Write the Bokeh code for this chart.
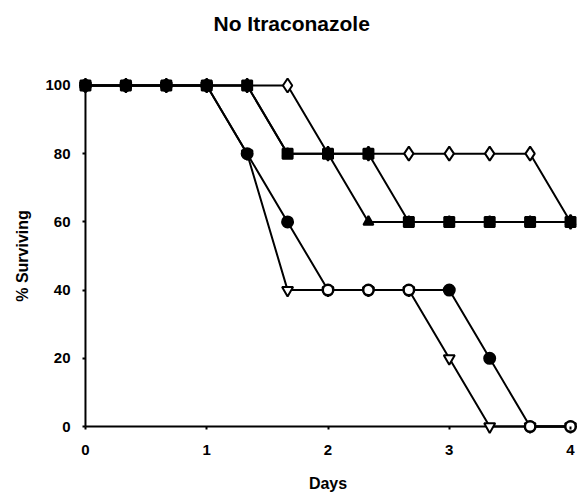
from bokeh.plotting import figure
from bokeh.models import Range1d, FixedTicker, Title
from bokeh.embed import file_html
from bokeh.resources import INLINE

days = [0, 1/3, 2/3, 1, 4/3, 5/3, 2, 7/3, 8/3, 3, 10/3, 11/3, 4]
nan = float("nan")

diamond_open = [100, 100, 100, 100, 100, 100, 80, 80, 80, 80, 80, 80, 60]
triangle_filled = [100, 100, 100, 100, 100, 80, 80, 60, 60, 60, 60, 60, 60]
square_filled = [100, 100, 100, 100, 100, 80, 80, 80, 60, 60, 60, 60, 60]
triangle_down_open = [100, 100, 100, 100, 80, 40, 40, 40, 40, 20, 0, 0, 0]
circle_filled = [100, 100, 100, 100, 80, 60, 40, 40, 40, 40, 20, 0, 0]
circle_open = [nan, nan, nan, nan, nan, nan, 40, 40, 40, nan, nan, 0, 0]

x_ticks = [0, 1, 2, 3, 4]
y_ticks = [0, 20, 40, 60, 80, 100]

FONT = "Liberation Sans"

p = figure(width=578, height=494, output_backend="svg", toolbar_location=None,
           x_range=Range1d(-0.0575, 4.0575), y_range=Range1d(-2.625, 102.625),
           min_border_left=78, min_border_right=1, min_border_top=76, min_border_bottom=57,
           title="No Itraconazole")
p.outline_line_color = None
p.grid.grid_line_color = None

p.title.text_font = FONT
p.title.text_font_size = "21px"
p.title.text_font_style = "bold"
p.title.text_color = "black"
p.title.align = "left"
p.title.offset = 135
p.title.standoff = 0

# blank spacer between the title and the plot area
spacer = Title(text=" ", text_font_size="10px", standoff=29)
p.add_layout(spacer, "above")

for ax in (p.xaxis[0], p.yaxis[0]):
    ax.axis_line_color = None
    ax.major_tick_line_color = "black"
    ax.major_tick_line_width = 2
    ax.minor_tick_line_color = None
    ax.major_label_text_font = FONT
    ax.major_label_text_font_size = "15px"
    ax.major_label_text_font_style = "bold"
    ax.major_label_text_color = "black"
    ax.axis_label_text_font = FONT
    ax.axis_label_text_font_size = "16px"
    ax.axis_label_text_font_style = "bold"
    ax.axis_label_text_color = "black"

p.xaxis.ticker = FixedTicker(ticks=x_ticks)
p.yaxis.ticker = FixedTicker(ticks=y_ticks)
p.yaxis.major_tick_in = 7
p.yaxis.major_tick_out = -4
p.xaxis.major_tick_in = 9
p.xaxis.major_tick_out = -6
p.xaxis.axis_label = "Days"
p.yaxis.axis_label = "% Surviving"
p.xaxis.major_label_standoff = 9
p.yaxis.major_label_standoff = 8
p.xaxis.axis_label_standoff = 17
p.yaxis.axis_label_standoff = 11

# axis lines at x=0 and y=0, spanning the tick range
p.line([x_ticks[0], x_ticks[0]], [y_ticks[0], y_ticks[-1]], line_color="black", line_width=2)
p.line([x_ticks[0], x_ticks[-1]], [y_ticks[0], y_ticks[0]], line_color="black", line_width=2)

LW = 2

def series(vals, marker, fill, size):
    p.line(days, vals, line_color="black", line_width=LW)
    p.scatter(days, vals, marker=marker, size=size, line_color="black",
              line_width=2, fill_color=fill)

series(diamond_open, "diamond", "white", 14)
series(triangle_filled, "triangle", "black", 10)
series(square_filled, "square", "black", 10)
series(triangle_down_open, "inverted_triangle", "white", 11)
series(circle_filled, "circle", "black", 11)
series(circle_open, "circle", "white", 10)

open("out.html", "w").write(file_html(p, INLINE))
